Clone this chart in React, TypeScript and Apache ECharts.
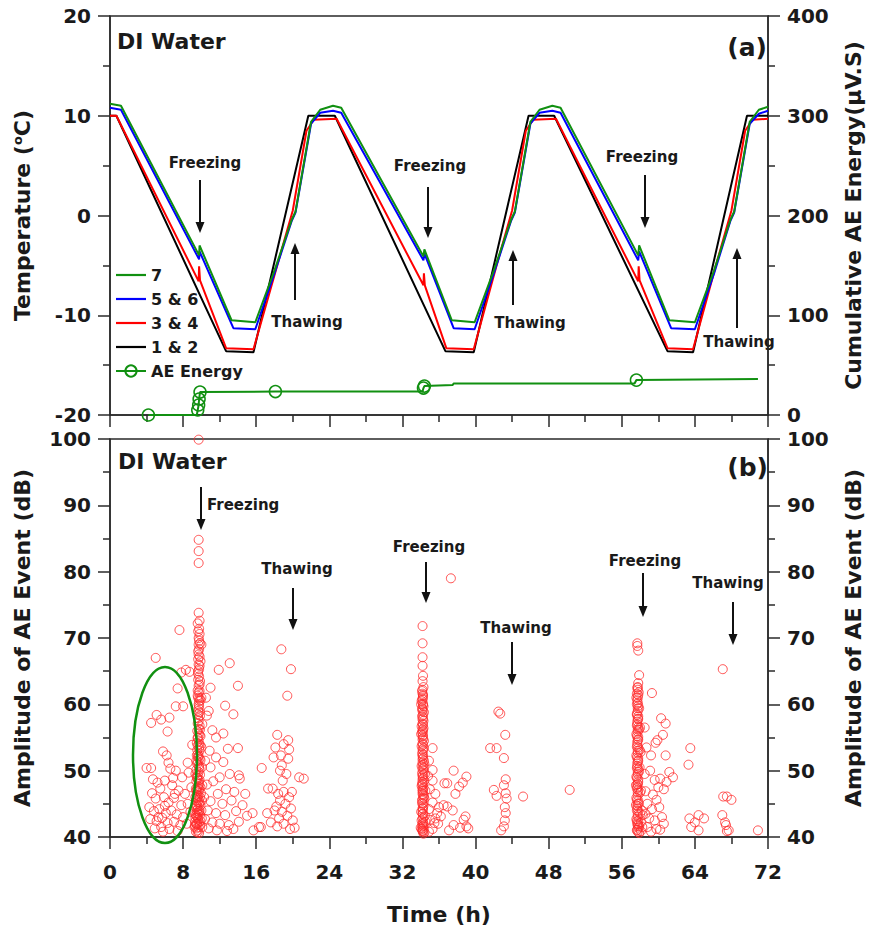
import React, { useEffect, useRef } from 'react';
import * as echarts from 'echarts';

const FONT = 'DejaVu Sans';

// ---- axis ticks ----
const TIME_TICKS = [0, 8, 16, 24, 32, 40, 48, 56, 64, 72];
const TEMP_TICKS = [-20, -10, 0, 10, 20];
const ENERGY_TICKS = [0, 100, 200, 300, 400];
const AMP_TICKS = [40, 50, 60, 70, 80, 90, 100];

// ---- temperature (°C) vs time (h) ----
const TEMP_7 = [
  [0, 11.2], [1.2, 11], [9.75, -4.0], [9.8, -3.0], [13.3, -10.5], [15.9, -10.7], [18, -5.5], [19.9, -0.4], [20.3, 0.4], [22, 9.4], [23, 10.6], [24.4, 11], [25.3, 10.8],
  [34.3, -4.1], [34.4, -3.4], [37.4, -10.5], [39.9, -10.7], [42, -5.5], [43.9, -0.4], [44.3, 0.4], [46, 9.4], [47, 10.6], [48.4, 11], [49.3, 10.8],
  [57.8, -4.0], [57.9, -3.0], [61.2, -10.5], [64, -10.7], [66.1, -5.5], [67.9, -0.4], [68.3, 0.4], [70, 9.4], [71, 10.6], [72, 10.9],
];
const TEMP_56 = [
  [0, 10.8], [1.2, 10.6], [9.75, -4.4], [9.8, -3.6], [13.5, -11.3], [15.9, -11.4], [18, -5.8], [19.9, -0.5], [20.3, 0.3], [22, 9.2], [23, 10.3], [24.4, 10.5], [25.3, 10.3],
  [34.3, -4.5], [34.4, -3.8], [37.6, -11.3], [39.9, -11.4], [42, -5.8], [43.9, -0.5], [44.3, 0.3], [46, 9.2], [47, 10.3], [48.4, 10.5], [49.3, 10.3],
  [57.8, -4.5], [57.9, -3.6], [61.4, -11.3], [64, -11.4], [66.1, -5.8], [67.9, -0.5], [68.3, 0.3], [70, 9.2], [71, 10.2], [72, 10.5],
];
const TEMP_34 = [
  [0, 10], [0.7, 10], [9.7, -6.6], [9.75, -5.1], [9.85, -6.5], [12.7, -13.3], [15.7, -13.4], [18.3, -5], [20, 0.5], [21.5, 8.5], [22.3, 9.6], [24.8, 9.7],
  [34.3, -7.0], [34.35, -5.8], [34.45, -7.0], [36.8, -13.3], [39.8, -13.4], [42.3, -5], [44, 0.5], [45.5, 8.5], [46.3, 9.6], [48.8, 9.7],
  [57.8, -6.6], [57.85, -5.1], [57.95, -6.5], [61, -13.3], [63.8, -13.4], [66.3, -5], [68, 0.5], [69.5, 8.5], [70.3, 9.6], [72, 9.7],
];
const TEMP_12 = [
  [0, 10], [0.7, 10], [12.7, -13.6], [15.7, -13.7], [21.7, 10], [24.6, 10],
  [36.7, -13.6], [39.8, -13.7], [45.8, 10], [48.6, 10],
  [61, -13.6], [63.8, -13.7], [69.7, 10], [72, 10],
];

// ---- cumulative AE energy (μV.S) ----
const AE_ENERGY = [
  [4.2, 0], [9.5, 0], [9.6, 5], [9.7, 10], [9.75, 16], [9.85, 23], [18.1, 23.5], [34.2, 23.5],
  [34.3, 27], [34.4, 29], [37.5, 30], [37.6, 31.5], [57.4, 31.5], [57.6, 35], [70.9, 36],
];
const AE_MARKED = [true, false, true, true, true, true, true, false, true, true, false, false, false, true, false];

// ---- amplitude of AE events (dB) ----
const AMP_BEFORE = [
  [5.0, 67.0], [7.6, 71.2], [7.8, 64.8], [8.7, 64.9], [8.3, 65.2], [7.4, 62.4], [7.2, 59.7], [8.0, 59.7], [5.1, 58.4], [4.5, 57.2],
  [5.6, 57.7], [6.5, 58.0], [6.3, 55.9], [5.8, 52.9], [4.0, 50.4], [4.5, 50.4], [6.2, 52.3], [6.4, 51.2], [6.6, 50.3], [8.5, 51.2],
  [8.6, 49.7], [7.9, 49.0], [7.2, 50.0], [6.0, 48.5], [5.2, 48.2], [5.5, 47.3], [6.8, 47.8], [7.5, 47.0], [8.2, 46.5], [4.6, 46.6],
  [5.0, 45.8], [5.9, 46.0], [6.4, 45.2], [7.0, 45.9], [7.8, 44.8], [4.3, 44.5], [4.8, 43.9], [5.4, 44.2], [6.1, 43.6], [6.7, 44.0],
  [7.3, 43.4], [8.0, 43.0], [4.4, 42.7], [5.1, 42.4], [5.7, 42.9], [6.3, 42.1], [7.0, 42.3], [7.7, 41.8], [4.9, 41.3], [5.6, 41.5],
  [6.5, 41.2], [7.4, 40.9], [8.4, 42.0], [6.9, 48.9], [5.3, 43.0], [6.0, 44.7], [7.1, 46.5], [5.8, 40.8], [4.7, 48.7], [9.0, 53.9],
  [8.9, 47.5], [8.5, 45.0], [8.8, 43.8],
];
const AMP_FREEZE_1 = [
  [9.7, 99.9], [9.7, 84.8], [9.7, 83.1], [9.7, 81.3], [9.7, 73.8], [9.8, 72.6], [9.75, 71.4], [9.8, 70.6], [9.7, 70.0], [9.85, 69.2],
  [9.75, 68.3], [9.7, 67.5], [9.9, 66.5], [9.8, 65.8], [9.65, 65.0], [9.75, 64.2], [9.85, 63.5], [9.7, 62.8], [9.8, 62.0], [9.6, 61.3],
  [9.9, 60.6], [9.75, 59.8], [9.65, 59.0], [9.85, 58.3], [9.7, 57.5], [9.8, 56.8], [9.55, 56.0], [9.9, 55.2], [9.7, 54.5], [9.6, 53.8],
  [9.8, 53.0], [9.5, 52.3], [9.9, 51.6], [9.7, 50.8], [9.45, 50.1], [9.85, 49.4], [9.6, 48.7], [9.75, 48.0], [9.4, 47.3], [9.95, 46.6],
  [9.55, 45.9], [9.8, 45.2], [9.35, 44.5], [9.7, 43.8], [9.5, 43.1], [9.9, 42.4], [9.3, 41.7], [9.6, 41.0], [9.75, 40.6], [9.4, 40.8],
  [9.65, 46.2], [9.45, 48.4], [9.55, 51.0], [9.35, 42.9], [9.5, 44.0], [9.6, 55.0], [9.75, 60.5], [9.65, 66.8], [9.25, 41.5], [9.3, 43.5],
  [9.4, 45.5], [9.5, 47.0], [9.35, 49.5], [9.6, 52.5], [10.0, 44.0], [10.1, 47.8], [10.05, 50.5], [10.0, 53.5], [10.1, 57.0], [10.0, 61.0],
  [10.1, 41.5], [10.05, 42.8], [10.0, 69.0], [10.05, 45.5],
  [9.45, 41.3], [9.55, 42.0], [9.65, 42.6], [9.4, 43.3], [9.6, 44.2], [9.45, 44.9], [9.7, 45.6], [9.5, 46.4], [9.65, 47.6], [9.55, 48.9],
  [9.7, 49.8], [9.45, 51.5], [9.65, 52.0], [9.75, 53.4], [9.5, 54.2], [9.7, 55.6], [9.6, 57.1], [9.8, 58.8], [9.7, 60.0], [9.6, 62.1],
  [9.8, 63.0], [9.65, 64.6], [9.7, 66.0], [9.8, 67.2], [9.75, 69.6], [9.65, 71.0], [9.6, 72.2], [9.3, 42.3], [9.4, 42.0], [9.55, 43.6],
  [9.35, 46.0], [9.45, 47.0], [9.85, 41.8], [9.85, 43.3], [9.9, 44.8], [9.85, 46.0], [9.9, 47.5], [9.8, 50.2], [9.9, 53.8], [9.85, 56.2],
  [9.6, 40.7], [9.7, 41.5], [9.5, 41.9], [9.75, 42.2], [9.6, 42.9], [9.7, 43.4], [9.55, 44.6], [9.75, 44.9], [9.6, 45.3], [9.7, 46.9],
  [9.55, 47.4], [9.75, 47.2], [9.6, 49.3], [9.7, 48.5], [9.5, 49.0], [9.75, 50.5], [9.6, 51.4], [9.7, 52.2], [9.55, 53.1], [9.75, 54.0],
  [9.6, 54.9], [9.7, 56.3], [9.65, 57.9], [9.6, 58.5], [9.7, 59.4], [9.65, 61.0], [9.7, 61.8], [9.65, 63.7], [9.75, 65.3], [9.65, 68.0],
  [9.7, 69.0], [9.8, 44.0], [9.8, 48.6], [9.8, 51.8], [9.8, 55.3], [9.8, 60.9],
  [10.5, 61.0], [11.9, 65.2], [13.1, 66.2], [14.0, 62.8], [12.6, 59.8], [10.8, 59.0], [11.2, 56.1], [10.6, 58.3], [11.6, 55.0], [12.4, 55.6],
  [12.9, 53.3], [14.0, 53.4], [10.9, 53.0], [11.6, 52.0], [12.4, 51.3], [10.4, 51.5], [11.0, 50.5], [14.1, 49.3], [14.2, 48.8], [13.1, 49.5],
  [12.0, 49.0], [11.3, 48.4], [10.6, 47.9], [12.7, 47.2], [13.6, 46.8], [11.8, 46.5], [10.3, 46.0], [11.0, 45.4], [12.3, 45.0], [13.3, 45.5],
  [14.5, 44.8], [10.7, 44.0], [11.6, 43.6], [12.6, 43.3], [13.8, 43.9], [15.0, 43.2], [10.4, 42.7], [11.2, 42.2], [12.0, 42.0], [13.0, 41.8],
  [14.1, 42.3], [10.8, 41.3], [11.7, 41.0], [12.8, 40.9], [13.5, 41.2], [15.6, 43.6], [15.7, 41.0], [16.3, 41.5], [14.8, 46.5], [13.5, 58.5],
  [11.0, 62.5],
];
const AMP_THAW_1 = [
  [18.75, 68.3], [19.8, 65.3], [19.4, 61.3], [18.3, 55.4], [19.5, 54.6], [18.1, 53.5], [19.6, 53.2], [19.0, 54.0], [17.9, 52.0], [19.5, 51.8],
  [18.7, 52.3], [18.8, 50.8], [16.6, 50.4], [21.2, 48.8], [17.3, 47.3], [17.8, 47.3], [18.4, 46.5], [19.0, 46.8], [19.6, 46.0], [18.6, 45.5],
  [19.2, 45.0], [18.2, 44.6], [19.8, 44.3], [18.8, 43.8], [19.4, 43.2], [18.5, 42.8], [20.0, 42.5], [19.0, 42.0], [18.3, 41.6], [19.7, 41.2],
  [20.2, 41.4], [17.2, 43.6], [16.5, 41.5], [18.9, 48.5], [19.3, 49.5], [20.7, 49.0], [18.0, 44.0], [17.6, 42.2], [19.9, 46.8], [18.6, 50.0],
];
const AMP_FREEZE_2 = [
  [34.2, 71.8], [34.2, 69.2], [34.2, 67.1], [34.2, 65.8], [34.25, 64.3], [34.2, 63.5], [34.3, 62.6], [34.15, 62.0], [34.25, 61.2], [34.1, 60.5],
  [34.3, 59.7], [34.2, 59.0], [34.15, 58.2], [34.3, 57.5], [34.1, 56.7], [34.25, 56.0], [34.2, 55.2], [34.35, 54.5], [34.1, 53.7], [34.25, 53.0],
  [34.2, 52.2], [34.35, 51.5], [34.1, 50.7], [34.3, 50.0], [34.2, 49.2], [34.4, 48.5], [34.1, 47.7], [34.25, 47.0], [34.35, 46.2], [34.15, 45.5],
  [34.3, 44.7], [34.2, 44.0], [34.45, 43.2], [34.1, 42.5], [34.3, 41.7], [34.2, 41.0], [34.4, 40.7], [34.05, 43.8], [34.15, 48.0], [34.4, 51.0],
  [34.05, 55.5], [34.4, 45.8], [34.5, 42.3], [34.0, 41.4], [34.35, 58.8], [34.45, 49.5], [34.05, 60.0], [34.5, 47.0], [34.2, 46.5], [34.3, 42.0],
  [34.2, 40.9], [34.25, 41.3], [34.15, 41.9], [34.3, 42.9], [34.2, 43.5], [34.25, 44.3], [34.15, 45.1], [34.3, 45.9], [34.2, 46.9], [34.3, 47.4],
  [34.2, 48.3], [34.25, 48.9], [34.15, 49.6], [34.3, 50.4], [34.2, 51.2], [34.25, 51.9], [34.15, 52.6], [34.3, 53.4], [34.2, 54.1], [34.25, 54.9],
  [34.15, 55.8], [34.3, 56.4], [34.2, 57.1], [34.25, 57.9], [34.15, 59.4], [34.25, 60.1], [34.2, 60.9], [34.2, 61.6], [34.3, 40.5], [34.1, 41.2],
  [34.25, 40.8], [34.2, 41.6], [34.25, 42.2], [34.2, 42.8], [34.25, 43.5], [34.2, 44.3], [34.25, 45.0], [34.2, 45.7], [34.25, 46.4], [34.2, 47.2],
  [34.25, 47.9], [34.2, 48.7], [34.25, 49.4], [34.2, 50.2], [34.25, 50.9], [34.2, 51.7], [34.25, 52.4], [34.2, 53.2], [34.25, 53.9], [34.2, 54.7],
  [34.25, 55.4], [34.2, 56.2], [34.25, 56.9], [34.2, 57.7], [34.25, 58.4], [34.2, 59.2], [34.25, 59.9], [34.2, 60.7], [34.25, 61.4], [34.2, 62.2],
  [37.3, 79.0], [35.3, 53.4], [35.3, 50.1], [37.6, 50.0], [36.6, 48.1], [36.9, 48.1], [35.3, 48.5], [35.6, 46.5], [35.3, 45.2], [36.0, 44.5],
  [36.5, 44.8], [35.6, 42.8], [35.9, 42.0], [35.3, 41.2], [34.9, 40.8], [39.0, 49.1], [38.6, 48.2], [38.2, 47.6], [37.8, 46.5], [37.5, 44.0],
  [37.6, 41.8], [38.3, 41.4], [38.7, 42.6], [39.0, 41.6], [37.1, 41.0], [34.9, 44.2], [35.0, 47.2], [34.8, 49.2], [34.9, 51.5], [35.0, 42.6],
  [38.9, 43.1], [39.2, 41.3], [36.2, 43.1], [35.8, 43.6], [35.5, 42.1], [36.9, 44.6],
];
const AMP_THAW_2 = [
  [42.5, 58.9], [42.7, 58.6], [43.25, 55.4], [41.6, 53.4], [42.3, 53.4], [43.1, 51.9], [43.3, 48.7], [43.1, 47.8], [43.3, 46.6], [43.4, 45.8],
  [43.2, 44.5], [43.3, 43.6], [43.2, 42.5], [43.1, 41.6], [42.8, 41.0], [42.0, 47.1], [42.3, 46.2], [45.2, 46.1], [50.3, 47.1],
];
const AMP_FREEZE_3 = [
  [57.7, 69.2], [57.7, 68.8], [57.8, 68.1], [57.9, 64.4], [57.8, 63.2], [57.7, 62.5], [57.85, 61.8], [57.6, 61.0], [57.75, 60.2], [57.9, 59.4],
  [57.65, 58.6], [57.8, 57.8], [57.7, 57.0], [57.9, 56.2], [57.6, 55.5], [57.8, 54.7], [57.7, 53.9], [57.95, 53.1], [57.6, 52.3], [57.8, 51.5],
  [57.7, 50.7], [57.9, 49.9], [57.6, 49.1], [57.8, 48.3], [57.7, 47.5], [58.0, 46.7], [57.6, 45.9], [57.85, 45.1], [57.7, 44.3], [58.0, 43.5],
  [57.6, 42.7], [57.8, 41.9], [57.7, 41.1], [57.9, 40.6], [58.1, 42.2], [58.2, 44.0], [58.1, 47.0], [57.95, 50.5], [58.05, 52.8], [58.0, 56.5],
  [57.55, 44.8], [57.55, 47.8], [58.1, 40.9], [58.25, 41.5], [58.3, 43.3],
  [57.75, 40.8], [57.8, 41.4], [57.7, 42.0], [57.8, 42.4], [57.75, 43.1], [57.8, 43.9], [57.7, 44.7], [57.8, 45.5], [57.75, 46.3], [57.8, 47.1],
  [57.7, 47.9], [57.8, 48.7], [57.75, 49.5], [57.8, 50.3], [57.7, 51.1], [57.8, 51.9], [57.75, 52.7], [57.8, 53.5], [57.7, 54.3], [57.8, 55.1],
  [57.75, 55.9], [57.8, 56.6], [57.7, 57.4], [57.8, 58.2], [57.75, 59.0], [57.8, 59.8], [57.7, 60.6], [57.8, 61.4], [57.75, 62.2], [57.9, 41.6],
  [57.65, 41.0], [57.75, 41.7], [57.65, 42.4], [57.75, 43.4], [57.65, 44.0], [57.75, 45.0], [57.65, 45.6], [57.75, 46.7], [57.65, 47.3], [57.75, 48.0],
  [57.65, 48.9], [57.75, 49.8], [57.65, 50.4], [57.75, 51.4], [57.65, 52.0], [57.75, 53.0], [57.65, 53.6], [57.75, 54.6], [57.65, 55.2], [57.75, 56.2],
  [57.65, 56.8], [57.75, 57.8], [57.65, 58.4], [57.75, 59.4], [57.65, 60.0], [57.75, 61.0], [57.65, 61.6], [57.75, 62.6],
  [59.3, 61.7], [60.3, 57.9], [60.8, 57.1], [60.5, 55.4], [59.9, 54.6], [59.7, 54.2], [59.2, 52.3], [60.8, 52.3], [59.1, 50.0], [61.2, 49.8],
  [61.6, 49.0], [60.9, 48.3], [60.6, 47.2], [59.6, 48.6], [60.2, 48.8], [60.0, 47.5], [59.4, 46.4], [58.6, 46.9], [58.8, 45.0], [59.3, 44.2],
  [60.1, 44.5], [58.6, 43.5], [59.0, 42.8], [59.6, 42.5], [60.4, 43.0], [60.6, 42.0], [59.8, 41.2], [58.8, 41.5], [59.2, 40.8], [60.2, 41.1],
  [58.5, 49.5], [58.7, 53.5], [58.5, 56.5], [59.8, 45.6],
];
const AMP_THAW_3 = [
  [63.5, 53.4], [63.3, 50.9], [63.4, 42.8], [64.4, 43.3], [65.0, 42.8], [64.4, 41.0], [63.6, 41.5], [64.0, 42.2],
  [67.05, 65.3], [67.1, 46.1], [67.5, 46.1], [68.0, 45.6], [67.0, 43.3], [67.3, 42.2], [67.5, 40.9], [67.7, 41.0], [67.4, 41.8], [70.9, 41.0],
];

const LEGEND = ['7', '5 & 6', '3 & 4', '1 & 2', 'AE Energy'];

const GREEN = '#119011';
const AXIS = '#2a2a2a';
const TEXT = '#1a1a1a';
const LINE_ICON = 'path://M0,0 L30,0 L30,2.2 L0,2.2 Z';

function arrow(x: number, y1: number, y2: number) {
  const d = y2 > y1 ? 1 : -1;
  return [
    { type: 'line', shape: { x1: x, y1, x2: x, y2: y2 - d * 8 }, style: { stroke: '#111', lineWidth: 2 } },
    { type: 'polygon', shape: { points: [[x - 4.5, y2 - d * 11], [x + 4.5, y2 - d * 11], [x, y2]] }, style: { fill: '#111' } },
  ];
}

function label(text: string, x: number, y: number, size: number, align = 'center') {
  return {
    type: 'text', x, y,
    style: {
      text, fill: TEXT, fontSize: size, fontWeight: 'bold', fontFamily: FONT,
      align, textAlign: align, verticalAlign: 'middle', textVerticalAlign: 'middle',
    },
  };
}

function yAxis(grid: number, pos: 'left' | 'right', ticks: number[], name: string, rich?: any) {
  return {
    type: 'value', gridIndex: grid, position: pos,
    min: ticks[0], max: ticks[ticks.length - 1], interval: ticks[1] - ticks[0],
    name, nameLocation: 'middle', nameRotate: 90, nameGap: pos === 'left' ? 77 : 74,
    nameTextStyle: { fontFamily: FONT, fontSize: 22, fontWeight: 'bold', color: TEXT, rich },
    axisLine: { show: true, lineStyle: { color: AXIS, width: 1.5 } },
    axisTick: { show: true, inside: false, length: 12, lineStyle: { color: AXIS, width: 1.5 } },
    minorTick: { show: true, splitNumber: 2, length: 7, lineStyle: { color: AXIS, width: 1.5 } },
    axisLabel: { show: true, margin: 19, fontFamily: FONT, fontSize: 20, fontWeight: 'bold', color: TEXT },
    splitLine: { show: false },
  };
}

function xAxis(grid: number, showLabels: boolean) {
  return {
    type: 'value', gridIndex: grid,
    min: TIME_TICKS[0], max: TIME_TICKS[TIME_TICKS.length - 1], interval: TIME_TICKS[1] - TIME_TICKS[0],
    name: showLabels ? 'Time (h)' : '', nameLocation: 'middle', nameGap: 66,
    nameTextStyle: { fontFamily: FONT, fontSize: 22, fontWeight: 'bold', color: TEXT },
    axisLine: { show: true, onZero: false, lineStyle: { color: AXIS, width: 1.5 } },
    axisTick: { show: true, inside: false, length: 12, lineStyle: { color: AXIS, width: 1.5 } },
    minorTick: { show: true, splitNumber: 2, length: 7, lineStyle: { color: AXIS, width: 1.5 } },
    axisLabel: { show: showLabels, margin: 25, fontFamily: FONT, fontSize: 20, fontWeight: 'bold', color: TEXT },
    splitLine: { show: false },
  };
}

function tempSeries(name: string, data: number[][], color: string) {
  return {
    name, type: 'line', xAxisIndex: 0, yAxisIndex: 0, data, symbol: 'none', showSymbol: false,
    lineStyle: { color, width: 2 }, itemStyle: { color }, z: 3,
  };
}

export default function App() {
  const ref = useRef<HTMLDivElement>(null);
  useEffect(() => {
    if (!ref.current) return;
    const chart = echarts.init(ref.current, null, { renderer: 'svg' });
    const amplitude = [...AMP_BEFORE, ...AMP_FREEZE_1, ...AMP_THAW_1, ...AMP_FREEZE_2, ...AMP_THAW_2, ...AMP_FREEZE_3, ...AMP_THAW_3];
    const aeData = AE_ENERGY.map((p, i) => (AE_MARKED[i] ? { value: p } : { value: p, symbol: 'none' }));

    const graphic: any[] = [
      label('DI Water', 117, 41, 22, 'left'),
      label('(a)', 767, 47, 25, 'right'),
      label('DI Water', 118, 461, 22, 'left'),
      label('(b)', 768, 467, 25, 'right'),
      // top panel annotations
      label('Freezing', 205, 163, 15), ...arrow(200, 180, 233),
      label('Freezing', 430, 166, 15), ...arrow(428, 187, 238),
      label('Freezing', 642, 157, 15), ...arrow(645, 175, 228),
      label('Thawing', 307, 322, 15), ...arrow(295, 300, 243),
      label('Thawing', 530, 323, 15), ...arrow(513, 305, 250),
      label('Thawing', 739, 342, 15), ...arrow(737, 328, 248),
      // bottom panel annotations
      label('Freezing', 207, 505, 15, 'left'), ...arrow(201, 487, 530),
      label('Thawing', 297, 569, 15), ...arrow(293, 588, 630),
      label('Freezing', 429, 547, 15), ...arrow(426, 562, 603),
      label('Thawing', 516, 628, 15), ...arrow(512, 642, 685),
      label('Freezing', 645, 561, 15), ...arrow(643, 573, 617),
      label('Thawing', 728, 583, 15), ...arrow(733, 602, 645),
      { type: 'ellipse', shape: { cx: 165, cy: 755, rx: 32, ry: 88 }, style: { fill: 'none', stroke: GREEN, lineWidth: 2.5 }, z: 10 },
    ];

    chart.setOption({
      animation: false,
      backgroundColor: '#ffffff',
      grid: [
        { left: 110, top: 16, width: 663, height: 399, show: true, borderColor: AXIS, borderWidth: 1.5, backgroundColor: 'transparent' },
        { left: 110, top: 439, width: 663, height: 398, show: true, borderColor: AXIS, borderWidth: 1.5, backgroundColor: 'transparent' },
      ],
      legend: {
        data: LEGEND.map((n) => (n === 'AE Energy' ? { name: n } : { name: n, icon: LINE_ICON })),
        orient: 'vertical', left: 115, top: 267, padding: 0,
        itemWidth: 30, itemHeight: 14, itemGap: 8,
        textStyle: { fontFamily: FONT, fontSize: 16, fontWeight: 'bold', color: TEXT, lineHeight: 16 },
      },
      xAxis: [xAxis(0, false), xAxis(1, true)],
      yAxis: [
        yAxis(0, 'left', TEMP_TICKS, '{a|Temperature (}{b|o}{a|C)}', {
          a: { fontFamily: FONT, fontSize: 22, fontWeight: 'bold', color: TEXT },
          b: { fontFamily: FONT, fontSize: 13, fontWeight: 'bold', color: TEXT, verticalAlign: 'top', padding: [0, 0, 6, 0] },
        }),
        yAxis(0, 'right', ENERGY_TICKS, 'Cumulative AE Energy(μV.S)'),
        yAxis(1, 'left', AMP_TICKS, 'Amplitude of AE Event (dB)'),
        yAxis(1, 'right', AMP_TICKS, 'Amplitude of AE Event (dB)'),
      ],
      series: [
        tempSeries('1 & 2', TEMP_12, '#000000'),
        tempSeries('3 & 4', TEMP_34, '#ff0000'),
        tempSeries('5 & 6', TEMP_56, '#0000ff'),
        tempSeries('7', TEMP_7, GREEN),
        {
          name: 'AE Energy', type: 'line', xAxisIndex: 0, yAxisIndex: 1, data: aeData,
          symbol: 'circle', symbolSize: 12, showAllSymbol: true,
          lineStyle: { color: GREEN, width: 2 },
          itemStyle: { color: 'rgba(255,255,255,0)', borderColor: GREEN, borderWidth: 1.5 },
          z: 4,
        },
        {
          name: 'Amplitude', type: 'scatter', xAxisIndex: 1, yAxisIndex: 2, data: amplitude,
          symbol: 'circle', symbolSize: 9,
          itemStyle: { color: 'rgba(255,255,255,0)', borderColor: '#ff2a2a', borderWidth: 1 },
          clip: false, z: 3,
        },
      ],
      graphic,
    });
    return () => chart.dispose();
  }, []);
  return <div ref={ref} style={{ position: 'absolute', left: 0, top: 0, width: 872, height: 930, background: '#fff' }} />;
}
